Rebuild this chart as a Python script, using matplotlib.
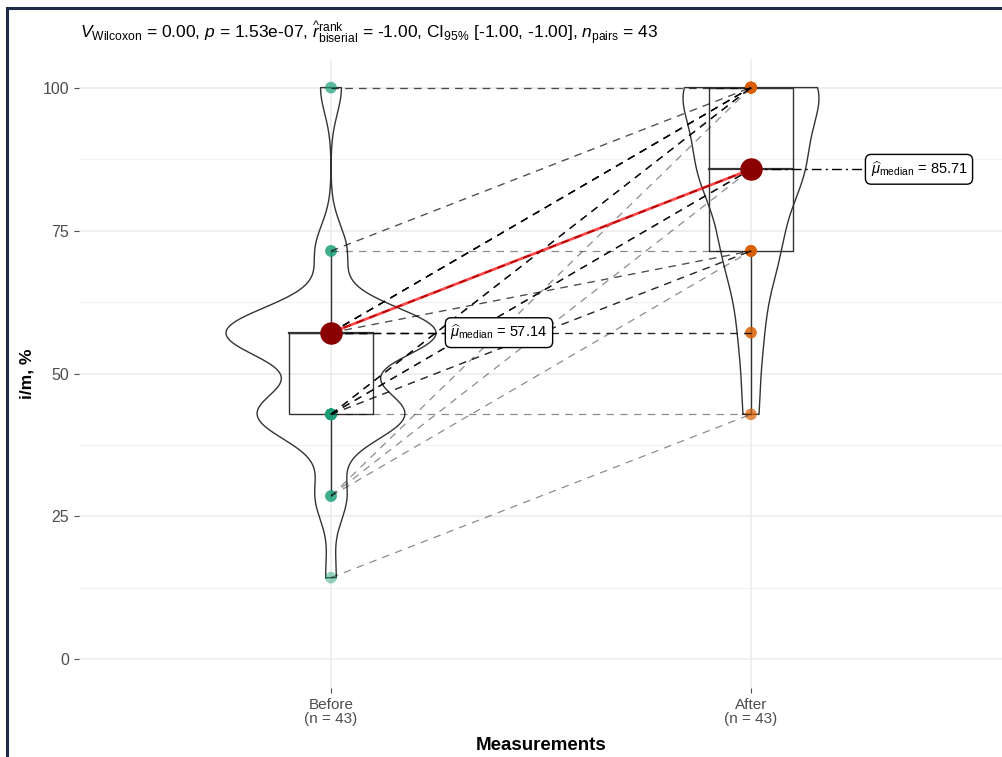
import numpy as np
import matplotlib
matplotlib.use("Agg")
import matplotlib.pyplot as plt
from matplotlib.patches import Rectangle

plt.rcParams['font.family'] = ['Liberation Sans', 'DejaVu Sans']
plt.rcParams['mathtext.fontset'] = 'custom'
plt.rcParams['mathtext.rm'] = 'Liberation Sans'
plt.rcParams['mathtext.it'] = 'Liberation Sans:italic'
plt.rcParams['mathtext.bf'] = 'Liberation Sans:bold'

# data: paired values (before, after, number of subjects)
pair_before = [100, 71.43, 71.43, 57.14, 57.14, 57.14, 57.14, 42.86, 42.86, 42.86, 42.86, 28.57, 28.57, 28.57, 14.29]
pair_after = [100, 100, 71.43, 100, 85.71, 71.43, 57.14, 100, 85.71, 71.43, 42.86, 100, 85.71, 71.43, 42.86]
pair_count = [2, 2, 1, 8, 7, 2, 3, 5, 5, 3, 1, 1, 1, 1, 1]

groups = ["Before", "After"]
tick_labels = ["Before\n(n = 43)", "After\n(n = 43)"]
medians = [57.14, 85.71]
median_labels = ["57.14", "85.71"]
title = (r"$V_{\mathrm{Wilcoxon}}$ = 0.00, $p$ = 1.53e-07, "
         r"$\widehat{r}_{\mathrm{biserial}}^{\mathrm{rank}}$ = -1.00, "
         r"CI$_{95\%}$ [-1.00, -1.00], $n_{\mathrm{pairs}}$ = 43")

before = np.repeat(pair_before, pair_count).astype(float)
after = np.repeat(pair_after, pair_count).astype(float)
vals = [before, after]
colors = ["#1B9E77", "#D95F02"]

fig = plt.figure(figsize=(10.03, 7.57), dpi=100)
ax = fig.add_axes([79/1003, 1-688/757, 924/1003, 629/757])

# grid
ax.set_xlim(-0.6, 1.6)
ax.set_ylim(-5, 105)
for y in [0, 25, 50, 75, 100]:
    ax.axhline(y, color="#ebebeb", lw=1.1, zorder=0)
for y in [12.5, 37.5, 62.5, 87.5]:
    ax.axhline(y, color="#f2f2f2", lw=0.8, zorder=0)
for x in [0, 1]:
    ax.axvline(x, color="#ebebeb", lw=1.1, zorder=0)


def nrd0(v):
    q75, q25 = np.percentile(v, [75, 25])
    lo = min(np.std(v, ddof=1), (q75 - q25) / 1.34)
    return 0.9 * lo * len(v) ** -0.2


# violins (trimmed, area scaled)
dens = []
for v in vals:
    grid = np.linspace(v.min(), v.max(), 512)
    bw = nrd0(v)
    d = np.exp(-0.5 * ((grid[:, None] - v[None, :]) / bw) ** 2).sum(1) / (len(v) * bw * np.sqrt(2 * np.pi))
    dens.append((grid, d))
dmax = max(d.max() for _, d in dens)
for i, (grid, d) in enumerate(dens):
    w = 0.25 * d / dmax
    xs = np.concatenate([i - w, (i + w)[::-1], [i - w[0]]])
    ys = np.concatenate([grid, grid[::-1], [grid[0]]])
    ax.plot(xs, ys, color="#333333", lw=1.0, zorder=2)

# boxplots
for i, v in enumerate(vals):
    q1, med, q3 = np.percentile(v, [25, 50, 75])
    iqr = q3 - q1
    lo = v[v >= q1 - 1.5 * iqr].min()
    hi = v[v <= q3 + 1.5 * iqr].max()
    ax.add_patch(Rectangle((i - 0.1, q1), 0.2, q3 - q1, fill=False, edgecolor="#333333", lw=1.0, zorder=2))
    ax.plot([i - 0.1, i + 0.1], [med, med], color="#333333", lw=1.6, zorder=2)
    ax.plot([i, i], [lo, q1], color="#333333", lw=1.0, zorder=2)
    ax.plot([i, i], [q3, hi], color="#333333", lw=1.0, zorder=2)

# points
for i, v in enumerate(vals):
    ax.scatter(np.full(len(v), i), v, s=70, color=colors[i], alpha=0.45, edgecolors="none", zorder=3)

# paired lines
for b, a in zip(before, after):
    ax.plot([0, 1], [b, a], color="black", alpha=0.45, lw=0.9, ls=(0, (6, 5)), zorder=4)

# medians
ax.plot([0, 1], medians, color="red", alpha=0.7, lw=2.0, zorder=5)
ax.scatter([0, 1], medians, s=230, color="#8B0000", zorder=6)
styles = [(0, (6, 4)), (0, (7, 3, 1.5, 3))]
for i, m in enumerate(medians):
    ax.plot([i, i + 0.275], [m, m], color="black", lw=1.0, ls=styles[i], zorder=5)
    ax.text(i + 0.40, m, r"$\widehat{\mu}_{\mathrm{median}}$" + " = " + median_labels[i],
            ha="center", va="center", fontsize=10.5, color="black", zorder=7,
            bbox=dict(boxstyle="round,pad=0.35,rounding_size=0.4", fc="white", ec="black", lw=1.0))

# axes
for s in ax.spines.values():
    s.set_visible(False)
ax.set_xticks([0, 1])
ax.set_xticklabels(tick_labels, color="#4d4d4d", fontsize=11, linespacing=1.0)
ax.set_yticks([0, 25, 50, 75, 100])
ax.set_yticklabels(["0", "25", "50", "75", "100"], color="#4d4d4d", fontsize=11.5)
ax.tick_params(axis="both", color="#4d4d4d", length=3.5, width=0.8)
ax.set_xlabel("Measurements", fontsize=13.5, fontweight="bold", labelpad=8)
ax.set_ylabel("i/m, %", fontsize=12.5, fontweight="bold", labelpad=6)
fig.text(80/1003, 1 - 33/757, title, fontsize=12.5, ha="left", va="center")

# outer frame
fig.patches.append(Rectangle((7/1003, -0.1), 1.2, 1.1 - 8/757, transform=fig.transFigure,
                             fill=False, edgecolor="#1f2a48", lw=2.2, zorder=10))

fig.savefig("out.png", dpi=100)
